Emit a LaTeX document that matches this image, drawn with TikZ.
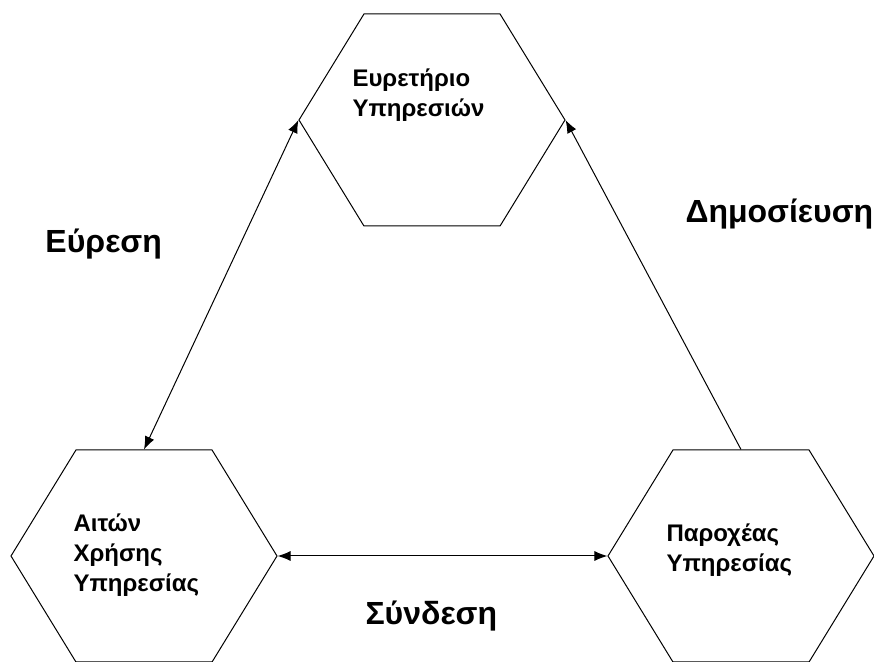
\documentclass[tikz,border=0pt]{standalone}
\usepackage{fontspec}
\setmainfont{Liberation Sans}
\usetikzlibrary{shapes.symbols,arrows.meta}

\begin{document}
\begin{tikzpicture}[x=0.5pt,y=-0.5pt,line width=0.5pt,
    hexa/.style={draw, signal, signal to=west and east, signal pointer angle=117,
      minimum width=133pt, minimum height=106pt, inner sep=0pt},
    txt/.style={font=\bfseries\fontsize{12}{15}\selectfont, align=left,
      anchor=base west, inner sep=0pt},
    lbl/.style={font=\bfseries\fontsize{16}{19}\selectfont, anchor=base west,
      inner sep=0pt},
    >={Latex[length=6.5pt,width=5pt]}]
  \useasboundingbox (0,0) rectangle (874,662);
  % the three roles
  \node[hexa] (reg) at (432,120) {};
  \node[hexa] (user) at (144,556) {};
  \node[hexa] (prov) at (741,556) {};
  % texts are placed by the baseline of their last line
  \node[txt] (regt) at (352,117) {Ευρετήριο\\Υπηρεσιών};
  \node[txt] (usert) at (73,592) {Αιτών\\Χρήσης\\Υπηρεσίας};
  \node[txt] (provt) at (666,572) {Παροχέας\\Υπηρεσίας};
  % operations between them
  \draw[<->] (user.north) -- (reg.west);
  \draw[->] (prov.north) -- (reg.east);
  \draw[<->] (user.east) -- (prov.west);
  \node[lbl] (find) at (45,253) {Εύρεση};
  \node[lbl] (pub) at (685,223) {Δημοσίευση};
  \node[lbl] (bind) at (365,625) {Σύνδεση};
\end{tikzpicture}
\end{document}
